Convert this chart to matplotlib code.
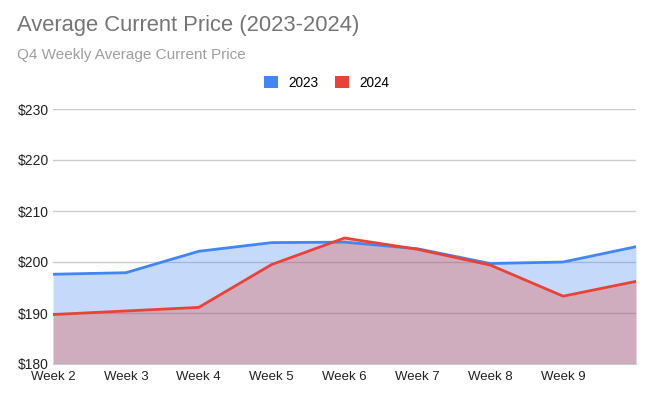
import matplotlib.pyplot as plt
from matplotlib.patches import Patch

plt.rcParams['font.family'] = ['Liberation Sans', 'DejaVu Sans']

# data
weeks = ['Week 2', 'Week 3', 'Week 4', 'Week 5', 'Week 6', 'Week 7', 'Week 8', 'Week 9', 'Week 10']
price_2023 = [197.6, 197.9, 202.1, 203.8, 203.9, 202.6, 199.7, 200.0, 203.0]
price_2024 = [189.7, 190.4, 191.1, 199.5, 204.7, 202.5, 199.4, 193.3, 196.2]
tick_labels = ['Week 2', 'Week 3', 'Week 4', 'Week 5', 'Week 6', 'Week 7', 'Week 8', 'Week 9', '']
yticks = [180, 190, 200, 210, 220, 230]

blue = '#4285F4'
red = '#EA4335'

fig = plt.figure(figsize=(6.54, 4.0), dpi=100)
ax = fig.add_axes([53/654, 36/400, (636-53)/654, (364-109)/400])

x = list(range(len(weeks)))
ax.fill_between(x, 180, price_2023, color=blue, alpha=0.3, linewidth=0)
ax.fill_between(x, 180, price_2024, color=red, alpha=0.3, linewidth=0)
ax.plot(x, price_2023, color=blue, linewidth=2)
ax.plot(x, price_2024, color=red, linewidth=2)

ax.set_xlim(0, len(weeks) - 1)
ax.set_ylim(180, 230)
ax.set_yticks(yticks)
ax.set_yticklabels(['$%d' % v for v in yticks])
ax.set_xticks(x)
ax.set_xticklabels(tick_labels)
ax.tick_params(length=0, labelsize=9.5, colors='#222222')
ax.tick_params(axis='y', pad=3, labelsize=10)
ax.tick_params(axis='x', pad=5)
ax.grid(axis='y', color='#cccccc', linewidth=1)
ax.set_axisbelow(True)
for s in ['top', 'right', 'left']:
    ax.spines[s].set_visible(False)
ax.spines['bottom'].set_color('#cccccc')

fig.text(17/654, 1 - 26/400, 'Average Current Price (2023-2024)', fontsize=15.8,
         color='#757575', va='center', ha='left')
fig.text(17/654, 1 - 55/400, 'Q4 Weekly Average Current Price', fontsize=11,
         color='#9e9e9e', va='center', ha='left')

handles = [Patch(facecolor=blue, label='2023'), Patch(facecolor=red, label='2024')]
fig.legend(handles=handles, loc='center', bbox_to_anchor=(0.5, 1 - 83/400), ncol=2,
           frameon=False, fontsize=9.8, handlelength=1.0, handleheight=1.0,
           handletextpad=0.8, columnspacing=1.2)

fig.savefig('out.png', dpi=100)
